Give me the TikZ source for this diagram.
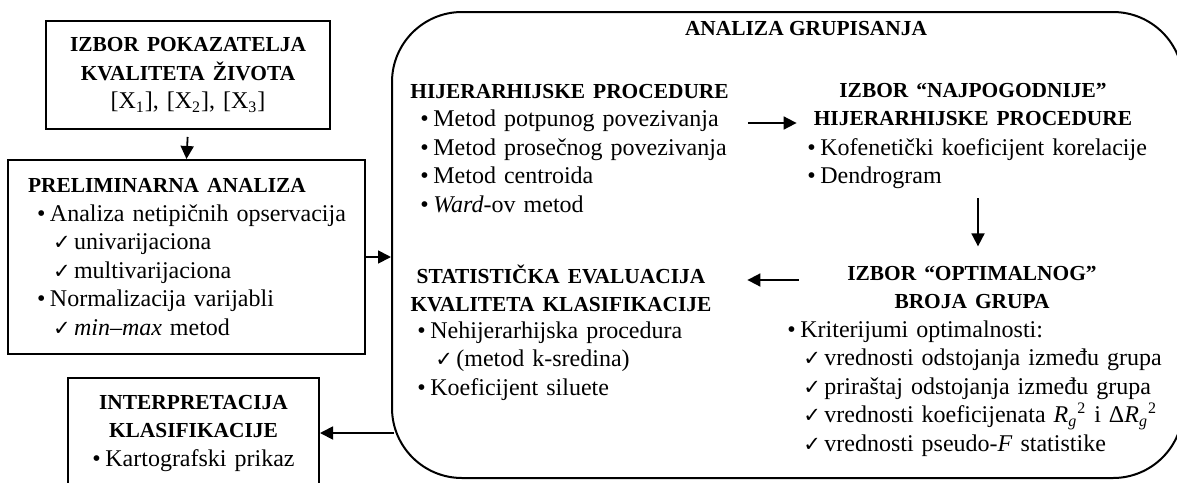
\documentclass[tikz,border=0pt]{standalone}
\usepackage{fontspec}
\setmainfont{Liberation Serif}
\newfontfamily\symfont{DejaVu Sans}
\usetikzlibrary{arrows.meta}

% type sizes: bold headings and body text share one line pitch
\newcommand\hd{\fontsize{10.7}{14.25}\selectfont\bfseries}
\newcommand\bd{\fontsize{12}{14.25}\selectfont}
% list lines, never broken: optional argument is the indent before the marker
\newcommand\bul[2][0pt]{\mbox{\hspace*{#1}\makebox[6.5pt][l]{•}#2}}
\newcommand\chk[2][8pt]{\mbox{\hspace*{#1}\makebox[10.5pt][l]{\symfont\fontsize{10.5}{12}\selectfont ✓}#2}}
\newcommand\Rg{\textit{R}\textsubscript{\textit{g}}\textsuperscript{2}}

\tikzset{
  frame/.style={draw, line width=1pt, inner sep=0pt},
  blocktext/.style={inner sep=0pt, font=\bd},
  arr/.style={line width=0.9pt, -{Triangle[length=6.5pt,width=6.5pt]}},
}

\begin{document}
\begin{tikzpicture}[x=0.5pt,y=-0.5pt]
\useasboundingbox (0,0) rectangle (1177,482);
\clip (0,0) rectangle (1177,482);

% left column boxes
\node[frame, font=\bd, minimum width=142pt, minimum height=54pt,
      text width=140pt, align=center] (izbor) at (188,75)
  {{\hd IZBOR POKAZATELJA}\\{\hd KVALITETA ŽIVOTA}\\{}[X\textsubscript{1}], [X\textsubscript{2}], [X\textsubscript{3}]};

\node[frame, font=\bd, minimum width=178.5pt, minimum height=97pt,
      text width=158.5pt, align=left] (prelim) at (186.5,257)
  {{\hd PRELIMINARNA ANALIZA}\\
   \bul[4.5pt]{Analiza netipičnih opservacija}\\
   \chk[12.5pt]{univarijaciona}\\
   \chk[12.5pt]{multivarijaciona}\\
   \bul[4.5pt]{Normalizacija varijabli}\\
   \chk[12.5pt]{\textit{min–max} metod}};

\node[frame, font=\bd, minimum width=125.5pt, minimum height=55pt,
      text width=120pt, align=center] (interp) at (193.5,433)
  {{\hd INTERPRETACIJA}\\{\hd KLASIFIKACIJE}\\\bul{Kartografski prikaz}};

% cluster analysis frame
\node[frame, rounded corners=35pt, minimum width=395.5pt, minimum height=233pt] (analiza) at (787.5,245) {};
\node[blocktext, anchor=base] (title) at (806,35) {\hd ANALIZA GRUPISANJA};

\node[blocktext, anchor=base west, text width=160pt, align=left] (hp) at (410,98)
  {{\hd HIJERARHIJSKE PROCEDURE}\\
   \bul[5pt]{Metod potpunog povezivanja}\\
   \bul[5pt]{Metod prosečnog povezivanja}\\
   \bul[5pt]{Metod centroida}\\
   \bul[5pt]{\textit{Ward}-ov metod}};

\node[blocktext, anchor=base, text width=160pt, align=center] (najhead) at (973,97)
  {{\hd IZBOR “NAJPOGODNIJE”}\\{\hd HIJERARHIJSKE PROCEDURE}};
\node[blocktext, anchor=base west, text width=170pt, align=left] (najlist) at (807,155)
  {\bul{Kofenetički koeficijent korelacije}\\
   \bul{Dendrogram}};

\node[blocktext, anchor=base, text width=170pt, align=center] (opthead) at (972,280)
  {{\hd IZBOR “OPTIMALNOG”}\\{\hd BROJA GRUPA}};
\node[blocktext, anchor=base west, text width=190pt, align=left] (optlist) at (787,337)
  {\bul{Kriterijumi optimalnosti:}\\
   \chk{vrednosti odstojanja između grupa}\\
   \chk{priraštaj odstojanja između grupa}\\
   \chk{vrednosti koeficijenata \Rg{} i Δ\Rg}\\
   \chk{vrednosti pseudo-\textit{F} statistike}};

\node[blocktext, anchor=base, text width=160pt, align=center] (stathead) at (561,283)
  {{\hd STATISTIČKA EVALUACIJA}\\{\hd KVALITETA KLASIFIKACIJE}};
\node[blocktext, anchor=base west, text width=150pt, align=left] (statlist) at (417,338)
  {\bul{Nehijerarhijska procedura}\\
   \chk[9pt]{(metod k-sredina)}\\
   \bul{Koeficijent siluete}};

% connectors
\draw[arr, shorten <=3.5pt] (izbor.south) -- (prelim.north);
\draw[arr] (prelim.east) -- (prelim.east -| analiza.west);
\draw[arr, shorten <=8.5pt, shorten >=8pt] (hp.east |- 0,123) -- (najhead.west |- 0,123);
\draw[arr, shorten <=4.5pt, shorten >=9.5pt] (najlist.south -| 978,0) -- (opthead.north -| 978,0);
\draw[arr, shorten <=1.5pt, shorten >=13pt] (opthead.west |- 0,280) -- (stathead.east |- 0,280);
\draw[arr, shorten <=-1.5pt] (interp.east -| analiza.west) -- (interp.east);
\end{tikzpicture}
\end{document}
